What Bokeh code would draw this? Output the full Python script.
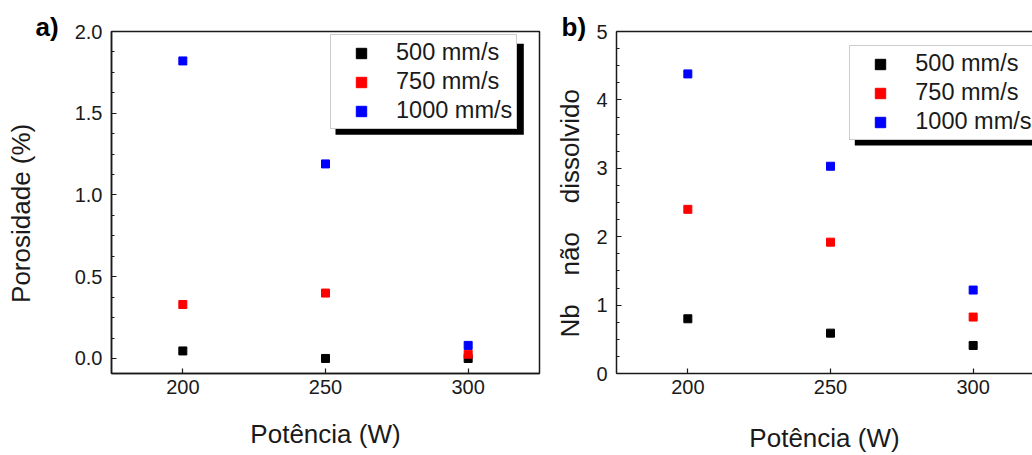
from bokeh.plotting import figure
from bokeh.layouts import row
from bokeh.models import (Range1d, SingleIntervalTicker, FixedTicker, LinearAxis, Title,
                          Legend, LegendItem, BoxAnnotation, NumeralTickFormatter)
from bokeh.embed import file_html
from bokeh.resources import INLINE

# ---------------- data ----------------
power = [200, 250, 300]
speeds = ["500 mm/s", "750 mm/s", "1000 mm/s"]
colors = ["#000000", "#ff0000", "#0000ff"]

poros_500 = [0.046, 0.0, 0.0]
poros_750 = [0.33, 0.40, 0.026]
poros_1000 = [1.82, 1.19, 0.08]

nb_500 = [0.80, 0.59, 0.41]
nb_750 = [2.40, 1.92, 0.825]
nb_1000 = [4.38, 3.03, 1.22]

# ---------------- layout constants ----------------
FONT = "Liberation Sans"
INK = "#1a1a1a"
FIG_H = 455
B_TOP = 31
B_BOT = 82
A_W, A_L, A_R = 545, 111, 6
B_W, B_L, B_R = 487, 71, 0
PAGE = 0

XA = (175, 325)
YA = (-0.092, 2.0)
px_per_x = (A_W - A_L - A_R) / (XA[1] - XA[0])
XB = (175, 175 + (B_W - B_L - B_R) / px_per_x)
YB = (0, 5)

frame_a = dict(left=PAGE + A_L, right=PAGE + A_W - A_R, top=PAGE + B_TOP, bottom=PAGE + FIG_H - B_BOT)
frame_b = dict(left=PAGE + A_W + B_L, right=PAGE + A_W + B_W - B_R, top=PAGE + B_TOP, bottom=PAGE + FIG_H - B_BOT)


def px2x(px, fr, xr):
    return xr[0] + (px - fr["left"]) / (fr["right"] - fr["left"]) * (xr[1] - xr[0])


def px2y(py, fr, yr):
    return yr[1] - (py - fr["top"]) / (fr["bottom"] - fr["top"]) * (yr[1] - yr[0])


def style_axis(ax, minor=True):
    ax.axis_line_color = INK
    ax.axis_line_width = 1.5
    ax.major_tick_in = 5
    ax.major_tick_out = 0
    ax.minor_tick_in = 3
    ax.minor_tick_out = 0
    ax.major_tick_line_color = INK
    ax.major_tick_line_width = 1.2
    ax.minor_tick_line_color = INK if minor else None
    ax.minor_tick_line_width = 1.0
    ax.major_label_text_font = FONT
    ax.major_label_text_font_size = "20px"
    ax.major_label_text_color = INK
    ax.axis_label_text_font = FONT
    ax.axis_label_text_font_size = "26px"
    ax.axis_label_text_font_style = "normal"
    ax.axis_label_text_color = INK


def make_fig(w, ml, mr, xr, yr, ylabel):
    f = figure(width=w, height=FIG_H, x_range=Range1d(*xr), y_range=Range1d(*yr),
               output_backend="svg", toolbar_location=None, title=None,
               min_border_left=ml, min_border_right=mr, min_border_top=B_TOP,
               min_border_bottom=B_BOT, x_axis_label="Potência (W)", y_axis_label=ylabel)
    f.xgrid.visible = False
    f.ygrid.visible = False
    f.background_fill_color = "white"
    f.border_fill_color = "white"
    style_axis(f.xaxis[0], minor=False)
    style_axis(f.yaxis[0])
    f.xaxis.ticker = SingleIntervalTicker(interval=50, num_minor_ticks=2)
    f.xaxis.major_label_standoff = 6
    f.yaxis.major_label_standoff = 9
    return f


def add_points(f, series):
    rs = []
    for ys, c in zip(series, colors):
        rs.append(f.scatter(power, ys, marker="square", size=8, color=c, line_color=c))
    return rs


def add_legend(f, rs, fr, xr, yr, box):
    # box: left, top, right, bottom of the legend frame, in page pixels
    left, top, right, bottom = box
    shadow = BoxAnnotation(left=px2x(left + 5, fr, xr), right=px2x(right + 5, fr, xr),
                           top=px2y(top + 5, fr, yr), bottom=px2y(bottom + 5, fr, yr),
                           fill_color="black", fill_alpha=1.0, line_color=None)
    f.add_layout(shadow)
    leg = Legend(items=[LegendItem(label=s, renderers=[r]) for s, r in zip(speeds, rs)],
                 location=(left - fr["left"], fr["bottom"] - bottom),
                 label_text_font=FONT, label_text_font_size="23.5px", label_text_color=INK,
                 glyph_width=52, glyph_height=26, label_height=26, spacing=2, padding=4,
                 label_standoff=9, border_line_color="#999999", border_line_width=1,
                 background_fill_color="white", background_fill_alpha=1.0, margin=0)
    f.add_layout(leg)


def panel_tag(text, offset):
    return Title(text=text, align="left", offset=offset, standoff=-21,
                 text_font=FONT, text_font_size="26px", text_font_style="bold",
                 text_color="black")


# ---------------- panel a ----------------
fa = make_fig(A_W, A_L, A_R, XA, YA, "Porosidade (%)\u00a0\u00a0\u00a0")
fa.outline_line_color = INK
fa.outline_line_width = 1.5
fa.yaxis.ticker = SingleIntervalTicker(interval=0.5, num_minor_ticks=4)
fa.yaxis.formatter = NumeralTickFormatter(format="0.0")
fa.yaxis.axis_label_standoff = 36
fa.xaxis.axis_label_standoff = 22
ra = add_points(fa, [poros_500, poros_750, poros_1000])
add_legend(fa, ra, frame_a, XA, YA, (330, 38.3, 518.3, 129.3))
fa.add_layout(panel_tag("a)", 35 - frame_a["left"]), "above")

# ---------------- panel b ----------------
gap = "\u00a0\u00a0\u00a0\u00a0"
fb = make_fig(B_W, B_L, B_R, XB, YB, "Nb" + gap + "não" + gap + "dissolvido" + "\u00a0\u00a0\u00a0")
fb.outline_line_color = None
fb.yaxis.ticker = SingleIntervalTicker(interval=1, num_minor_ticks=4)
fb.yaxis.formatter = NumeralTickFormatter(format="0")
fb.yaxis.axis_label_standoff = 8
fb.xaxis.axis_label_standoff = 26
top_ax = LinearAxis(ticker=FixedTicker(ticks=[]), major_label_text_font_size="0px",
                    major_label_standoff=0,
                    major_tick_in=0, major_tick_out=0, minor_tick_in=0, minor_tick_out=0,
                    axis_line_color=INK, axis_line_width=1.5)
fb.add_layout(top_ax, "above")
rb = add_points(fb, [nb_500, nb_750, nb_1000])
add_legend(fb, rb, frame_b, XB, YB, (849.3, 47.7, 1045, 140))
fb.add_layout(panel_tag("b)", 561 - frame_b["left"]), "above")

p = row(fa, fb, spacing=0)
open("out.html", "w").write(file_html(p, INLINE))
